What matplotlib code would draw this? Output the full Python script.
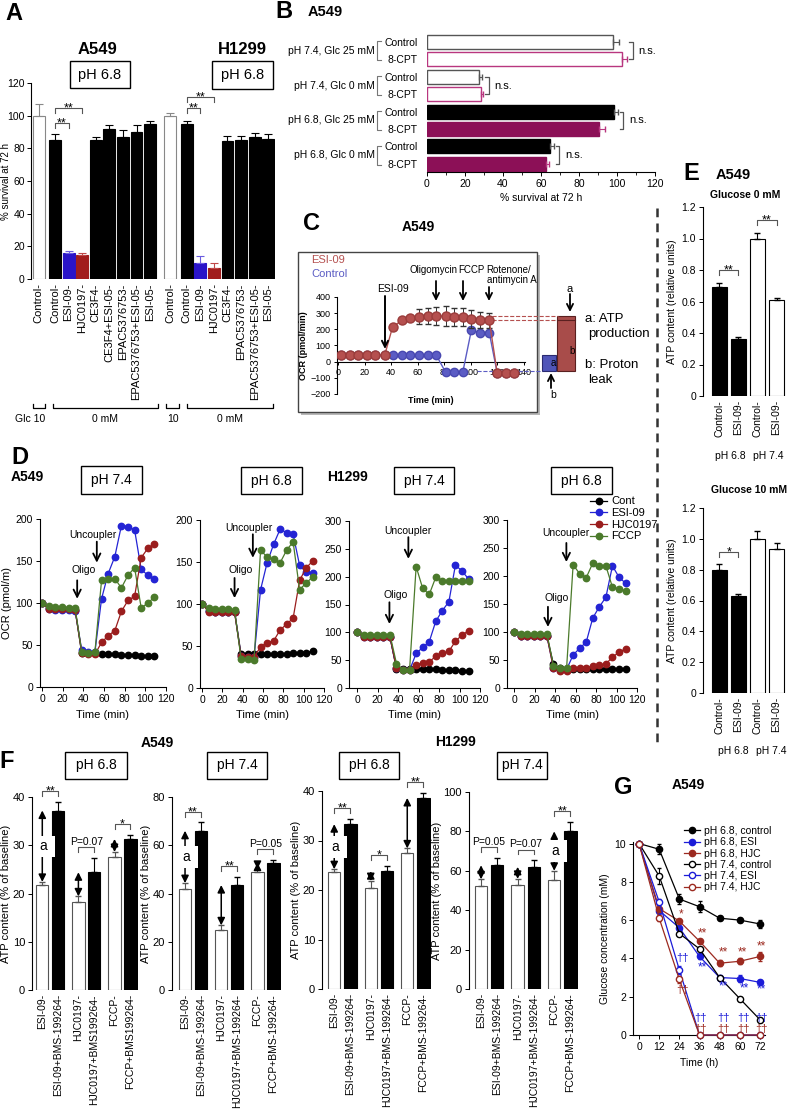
import matplotlib
matplotlib.use('Agg')
import matplotlib.pyplot as plt
from matplotlib.patches import Rectangle
from matplotlib import transforms

plt.rcParams['font.family'] = ['Liberation Sans', 'DejaVu Sans']
plt.rcParams['font.size'] = 8
plt.rcParams['axes.linewidth'] = 0.8
plt.rcParams['xtick.major.size'] = 3
plt.rcParams['ytick.major.size'] = 3
plt.rcParams['xtick.major.width'] = 0.7
plt.rcParams['ytick.major.width'] = 0.7
plt.rcParams['xtick.major.pad'] = 2
plt.rcParams['ytick.major.pad'] = 2

# ---------------- data ----------------
# A: survival at 72 h, pH 6.8
a549_names = ["Control-", "Control-", "ESI-09-", "HJC0197-", "CE3F4-", "CE3F4+ESI-05-",
              "EPAC5376753-", "EPAC5376753+ESI-05-", "ESI-05-"]
a549_surv = [100, 85, 16, 15, 85, 92, 87, 90, 95]
a549_surv_err = [7, 3.5, 1, 0.8, 2, 2.5, 4, 4.5, 1.5]
h1299_names = ["Control-", "Control-", "ESI-09-", "HJC0197-", "CE3F4-",
               "EPAC5376753-", "EPAC5376753+ESI-05-", "ESI-05-"]
h1299_surv = [99.5, 95, 10, 7, 84.5, 85, 87, 86]
h1299_surv_err = [2, 1.5, 4, 2.5, 3, 2.5, 2.5, 3]

# B: 8-CPT
b_groups = ["pH 7.4, Glc 25 mM", "pH 7.4, Glc 0 mM", "pH 6.8, Glc 25 mM", "pH 6.8, Glc 0 mM"]
b_ctrl = [98, 27.4, 98.4, 64.7]
b_ctrl_err = [3, 1.5, 2, 2]
b_cpt = [102.6, 28.4, 90.5, 62.6]
b_cpt_err = [2.6, 1, 3, 1.5]

# C: OCR trace
c_time = [2, 8.5, 15, 21.5, 28, 35, 41, 48, 54.5, 61, 67.5, 74, 81, 87.5, 94,
          100.5, 107, 114, 120, 126.5, 133]
c_esi = [40, 40, 40, 40, 40, 40, 215, 255, 270, 278, 282, 282, 282, 275, 275,
         265, 258, 255, -70, -72, -70]
c_esi_err = [0] * 9 + [45, 50, 55, 60, 55, 55, 55, 50, 45] + [0, 0, 0]
c_ctrl = [40] * 12 + [-65, -65, -65, 195, 180, 180, -70, -70, -70]

# D: OCR (% of baseline)
d_time = [0, 6.4, 12.8, 19.2, 25.6, 32, 38.4, 44.8, 51.2, 57.6, 64, 70.4, 76.8,
          83.2, 89.6, 96, 102.4, 108.8]
d_names = ["Cont", "ESI-09", "HJC0197", "FCCP"]
d1_cont = [100, 94, 93, 93, 93, 92, 40, 40, 40, 39, 39, 39, 38, 38, 38, 37, 37, 37]
d1_esi = [100, 93, 92, 92, 92, 91, 44, 42, 42, 105, 135, 155, 192, 191, 187, 140, 133, 128]
d1_hjc = [100, 93, 93, 93, 93, 92, 41, 39, 39, 53, 61, 67, 90, 103, 108, 154, 165, 170]
d1_fccp = [100, 96, 95, 95, 94, 94, 42, 41, 42, 127, 129, 129, 118, 133, 142, 94, 100, 107]
d2_cont = [100, 92, 91, 91, 91, 91, 40, 41, 40, 40, 40, 40, 40, 40, 42, 42, 42, 44]
d2_esi = [100, 92, 91, 91, 91, 91, 38, 37, 37, 117, 149, 171, 189, 185, 183, 146, 138, 137]
d2_hjc = [100, 91, 90, 90, 90, 90, 38, 37, 37, 49, 54, 56, 69, 76, 83, 128, 143, 151]
d2_fccp = [100, 95, 94, 94, 94, 93, 35, 34, 33, 164, 156, 153, 149, 164, 174, 117, 125, 132]
d3_cont = [100, 93, 92, 92, 92, 92, 34, 35, 35, 35, 35, 34, 34, 33, 33, 32, 31, 31]
d3_esi = [100, 92, 92, 92, 92, 92, 36, 32, 32, 62, 73, 83, 120, 139, 155, 221, 210, 196]
d3_hjc = [100, 92, 92, 92, 92, 92, 36, 33, 33, 42, 45, 47, 57, 62, 66, 84, 95, 103]
d3_fccp = [100, 96, 96, 96, 96, 96, 44, 33, 33, 218, 179, 168, 199, 193, 193, 193, 193, 193]
d4_cont = [100, 93, 93, 93, 93, 93, 42, 36, 34, 34, 34, 34, 34, 34, 34, 34, 34, 34]
d4_esi = [100, 93, 93, 93, 93, 93, 36, 33, 33, 59, 71, 82, 125, 145, 162, 218, 198, 187]
d4_hjc = [100, 93, 93, 93, 93, 93, 35, 30, 30, 36, 36, 36, 39, 41, 43, 55, 64, 70]
d4_fccp = [100, 97, 97, 97, 97, 97, 40, 35, 35, 220, 204, 197, 223, 218, 218, 180, 177, 173]

# E: ATP content (relative units)
e_names = ["Control-", "ESI-09-", "Control-", "ESI-09-"]
e_glc0 = [0.69, 0.365, 1.0, 0.61]
e_glc0_err = [0.03, 0.008, 0.035, 0.01]
e_glc0_sig = [(0, 1, "**"), (2, 3, "**")]
e_glc10 = [0.8, 0.63, 1.0, 0.935]
e_glc10_err = [0.035, 0.012, 0.05, 0.04]
e_glc10_sig = [(0, 1, "*")]

# F: ATP content (% of baseline)
f_names_a = ["ESI-09-", "ESI-09+BMS-199264-", "HJC0197-", "HJC0197+BMS199264-",
             "FCCP-", "FCCP+BMS199264-"]
f_names_b = ["ESI-09-", "ESI-09+BMS-199264-", "HJC0197-", "HJC0197+BMS-199264-",
             "FCCP-", "FCCP+BMS-199264-"]
f_a549_68 = [21.7, 37.2, 18.2, 24.4, 27.6, 31.3]
f_a549_68_err = [0.7, 1.8, 1.2, 3.0, 1.0, 0.9]
f_a549_74 = [42, 66, 25, 43.5, 49, 52.8]
f_a549_74_err = [2.3, 3.5, 1.8, 3.5, 1.2, 1.2]
f_h1299_68 = [23.7, 33.3, 20.5, 23.8, 27.4, 38.6]
f_h1299_68_err = [0.5, 1.0, 1.3, 1.0, 1.0, 1.0]
f_h1299_74 = [52.3, 62.8, 53, 62, 55.3, 80]
f_h1299_74_err = [3.4, 3.9, 2.9, 3.3, 4.7, 4.7]
f_sig_a549_68 = ["**", "P=0.07", "*"]
f_sig_a549_74 = ["**", "**", "P=0.05"]
f_sig_h1299_68 = ["**", "*", "**"]
f_sig_h1299_74 = ["P=0.05", "P=0.07", "**"]

# G: glucose consumption
g_time = [0, 12, 24, 36, 48, 60, 72]
g_labels = ["pH 6.8, control", "pH 6.8, ESI", "pH 6.8, HJC",
            "pH 7.4, control", "pH 7.4, ESI", "pH 7.4, HJC"]
g_68_ctrl = [10, 9.7, 7.1, 6.7, 6.1, 6.0, 5.8]
g_68_ctrl_err = [0, 0.25, 0.25, 0.3, 0.12, 0.12, 0.2]
g_68_esi = [10, 6.5, 5.6, 4.1, 3.0, 2.95, 2.75]
g_68_esi_err = [0, 0.1, 0.15, 0.15, 0.15, 0.2, 0.1]
g_68_hjc = [10, 6.6, 5.95, 4.9, 3.75, 3.85, 4.1]
g_68_hjc_err = [0, 0.1, 0.1, 0.1, 0.15, 0.15, 0.25]
g_74_ctrl = [10, 8.3, 5.3, 4.5, 3.0, 1.9, 0.8]
g_74_ctrl_err = [0, 0.4, 0.15, 0.1, 0.1, 0.1, 0.1]
g_74_esi = [10, 6.95, 3.4, 0, 0, 0, 0]
g_74_esi_err = [0, 0.15, 0.2, 0, 0, 0, 0]
g_74_hjc = [10, 6.1, 2.9, 0, 0, 0, 0]
g_74_hjc_err = [0, 0.15, 0.2, 0, 0, 0, 0]
# significance marks (time, level, text, series)
g_marks = [(25, 6.3, "*", "hjc"), (37.5, 5.3, "**", "hjc"), (50, 4.3, "**", "hjc"),
           (61.5, 4.3, "**", "hjc"), (73, 4.6, "**", "hjc"),
           (37.5, 3.55, "**", "esi"), (50, 2.55, "**", "esi"), (63, 2.45, "**", "esi"),
           (73, 2.4, "**", "esi"),
           (26, 4.0, "\u2020\u2020", "esi"), (26, 2.35, "\u2020\u2020", "hjc"),
           (36.5, 0.9, "\u2020\u2020", "esi"), (50, 0.9, "\u2020\u2020", "esi"),
           (62, 0.9, "\u2020\u2020", "esi"), (73, 0.9, "\u2020\u2020", "esi"),
           (36.5, 0.3, "\u2020\u2020", "hjc"), (50, 0.3, "\u2020\u2020", "hjc"),
           (62, 0.3, "\u2020\u2020", "hjc"), (73, 0.3, "\u2020\u2020", "hjc")]

BLUE = '#2a14c8'
RED = '#a11c1c'
GRAY = '#555555'

# ---------------- figure ----------------
W, H = 787, 1110
fig = plt.figure(figsize=(W / 100, H / 100), dpi=100)


def add_ax(l, t, r, b, **kw):
    return fig.add_axes([l / W, 1 - b / H, (r - l) / W, (b - t) / H], **kw)


under = add_ax(0, 0, W, H, zorder=-5)
ov = add_ax(0, 0, W, H, zorder=20)
for a in (under, ov):
    a.set_xlim(0, W)
    a.set_ylim(H, 0)
    a.axis('off')


def txt(x, y, s, size=8, weight='normal', ha='center', va='center', color='k'):
    ov.text(x, y, s, fontsize=size, fontweight=weight, ha=ha, va=va, color=color)


def box(l, t, r, b, s, size=10):
    ov.add_patch(Rectangle((l, t), r - l, b - t, fill=False, lw=1, ec='k'))
    txt((l + r) / 2, (t + b) / 2, s, size)


def arrow(x, y0, y1, lw=1.3, ms=11):
    ov.annotate('', xy=(x, y1), xytext=(x, y0),
                arrowprops=dict(arrowstyle='->', lw=lw, color='k', shrinkA=0, shrinkB=0,
                                mutation_scale=ms))


def sig_bracket(ax, x1, x2, y, h, label, fs=9, color=GRAY):
    ax.plot([x1, x1, x2, x2], [y - h, y, y, y - h], color=color, lw=0.8, clip_on=False)
    dy = -2.5 if '*' in label else 1.5
    ax.annotate(label, ((x1 + x2) / 2, y), xytext=(0, dy), textcoords='offset points',
                ha='center', va='baseline', fontsize=fs, annotation_clip=False)


def clean(ax, bottom=True):
    ax.spines['top'].set_visible(False)
    ax.spines['right'].set_visible(False)
    if not bottom:
        ax.spines['bottom'].set_visible(False)


# ---------------- A ----------------
axA = add_ax(31, 83, 275, 279)
pos_a = [0] + [1.2 + i for i in range(len(a549_surv) - 1)]
pos_h = [9.7] + [10.9 + i for i in range(len(h1299_surv) - 1)]
fill_a = ['white', 'black', BLUE, RED] + ['black'] * 5
fill_h = ['white', 'black', BLUE, RED] + ['black'] * 4
errc = {'white': '#888888', 'black': 'black', BLUE: '#6a5ce0', RED: '#c04848'}
for pos, vals, errs, fills in ((pos_a, a549_surv, a549_surv_err, fill_a),
                               (pos_h, h1299_surv, h1299_surv_err, fill_h)):
    for p, v, e, c in zip(pos, vals, errs, fills):
        axA.bar(p, v, 0.88, color=c, edgecolor=errc[c] if c == 'white' else c, lw=0.8)
        axA.errorbar(p, v, yerr=[[0], [e]], fmt='none', ecolor=errc[c], capsize=3,
                     elinewidth=0.8, capthick=0.8)
axA.set_xlim(-0.57, 17.4)
axA.set_ylim(0, 120)
axA.set_yticks(range(0, 121, 20))
axA.set_xticks(pos_a + pos_h)
axA.set_xticklabels(a549_names + h1299_names, rotation=90, fontsize=8)
axA.tick_params(axis='x', length=0, pad=3)
axA.tick_params(axis='y', labelsize=7.5, pad=1.5)
clean(axA, bottom=False)
axA.set_ylabel('% survival at 72 h', fontsize=7)
axA.yaxis.set_label_coords(-0.08, 0.5)
sig_bracket(axA, pos_a[1], pos_a[2], 95.5, 3, '**')
sig_bracket(axA, pos_a[1], pos_a[3], 104.6, 3, '**')
sig_bracket(axA, pos_h[1], pos_h[2], 104.6, 3, '**')
sig_bracket(axA, pos_h[1], pos_h[3], 111.5, 3, '**')

txt(14, 14, 'A', 17, 'bold')
txt(97, 49, 'A549', 12, 'bold')
txt(242, 49, 'H1299', 12, 'bold')
box(70, 61, 130, 88, 'pH 6.8', 10.5)
box(212, 61, 273, 89, 'pH 6.8', 10.5)
for l, r in ((33, 45), (53, 158), (166, 179), (187, 273)):
    ov.plot([l, l, r, r], [404, 408, 408, 404], color='k', lw=0.9)
txt(30, 419, 'Glc 10', 7.5)
txt(105, 419, '0 mM', 7.5)
txt(173, 419, '10', 7.5)
txt(230, 419, '0 mM', 7.5)

# ---------------- B ----------------
axB = add_ax(427, 32, 655, 172)
for i in range(len(b_groups)):
    acid = i >= 2
    axB.barh(2 * i, b_ctrl[i], 0.8, color='black' if acid else 'white',
             edgecolor='black' if acid else GRAY, lw=1)
    axB.barh(2 * i + 1, b_cpt[i], 0.8, color='#8c1057' if acid else 'white',
             edgecolor='#8c1057' if acid else '#b8367f', lw=1)
    axB.errorbar(b_ctrl[i], 2 * i, xerr=[[0], [b_ctrl_err[i]]], fmt='none', ecolor=GRAY,
                 capsize=2.5, elinewidth=0.8)
    axB.errorbar(b_cpt[i], 2 * i + 1, xerr=[[0], [b_cpt_err[i]]], fmt='none',
                 ecolor='#b8367f', capsize=2.5, elinewidth=0.8)
    x0 = max(b_ctrl[i] + b_ctrl_err[i], b_cpt[i] + b_cpt_err[i]) + 3
    axB.plot([x0 - 2, x0, x0, x0 - 2], [2 * i, 2 * i, 2 * i + 1, 2 * i + 1], color=GRAY,
             lw=0.9, clip_on=False)
    axB.text(x0 + 3, 2 * i + 0.5, 'n.s.', va='center', fontsize=8)
axB.set_xlim(0, 120)
axB.set_ylim(7.47, -0.575)
axB.set_xticks(range(0, 121, 20))
axB.set_xticks(range(10, 120, 20), minor=True)
axB.tick_params(axis='x', which='minor', length=2)
axB.set_yticks(range(8))
axB.set_yticklabels(['Control', '8-CPT'] * 4, fontsize=7.5)
axB.tick_params(axis='y', length=0, pad=7)
axB.tick_params(axis='x', labelsize=7.5)
clean(axB)
axB.spines['left'].set_visible(False)
axB.set_xlabel('% survival at 72 h', fontsize=7.5, labelpad=3)
trB = transforms.blended_transform_factory(ov.transData, axB.transData)
for i, g in enumerate(b_groups):
    ov.text(375, 2 * i + 0.5, g, transform=trB, ha='right', va='center', fontsize=7.5)
    ov.plot([381, 377, 377, 381], [2 * i - 0.05, 2 * i - 0.05, 2 * i + 1.05, 2 * i + 1.05],
            transform=trB, color='#777777', lw=0.8)
txt(284, 12, 'B', 17, 'bold')
txt(325, 12, 'A549', 10.5, 'bold')

# ---------------- C ----------------
under.add_patch(Rectangle((301, 255), 239, 160, color='#b8b8b8', lw=0))
under.add_patch(Rectangle((298, 252), 239, 160, fc='white', ec='#444444', lw=1))
axC = add_ax(337, 297, 525, 394)
axC.patch.set_alpha(0)
axC.plot(c_time, c_ctrl, '-o', color='#5b5cc4', mec='#4848b0', ms=6, lw=1, zorder=3)
axC.errorbar(c_time, c_esi, yerr=c_esi_err, fmt='-o', color='#b5504f', mec='#9a3c3b',
             ecolor='#333333', elinewidth=0.7, capsize=2.5, ms=6.5, lw=1, zorder=4)
axC.plot([116, 166], [max(c_esi)] * 2, '--', color='#b5504f', lw=0.8, clip_on=False)
axC.plot([116, 166], [c_esi[17]] * 2, '--', color='#b5504f', lw=0.8, clip_on=False)
axC.plot([105, 154], [-60, -60], '--', color='#5b5cc4', lw=0.8, clip_on=False)
axC.bar(159, 100, width=10.6, bottom=-60, color='#5055b8', edgecolor='#2a2a70', lw=0.8,
        clip_on=False)
axC.bar(172, max(c_esi) + 60, width=13.6, bottom=-60, color='#a84c4a', edgecolor='#5a2020',
        lw=0.8, clip_on=False)
axC.plot([165.2, 178.8], [c_esi[17]] * 2, color='#5a2020', lw=0.8, clip_on=False)
axC.set_xlim(-1, 141)
axC.set_ylim(-200, 400)
axC.set_xticks(range(0, 141, 20))
axC.set_yticks(range(-200, 401, 100))
axC.tick_params(labelsize=6.5, length=2.5)
clean(axC)
axC.spines['bottom'].set_position(('data', 0))
axC.set_ylabel('OCR (pmol/min)', fontsize=6.5, fontweight='bold', labelpad=2)
axC.text(0.5, -0.07, 'Time (min)', transform=axC.transAxes, ha='center', va='center',
         fontsize=6.5, fontweight='bold')
txt(312, 224, 'C', 17, 'bold')
txt(418, 227, 'A549', 10, 'bold')
txt(311, 260, 'ESI-09', 8, ha='left', color='#b5504f')
txt(311, 274, 'Control', 8, ha='left', color='#5b5cc4')
txt(393, 289, 'ESI-09', 7.5)
arrow(385, 296, 349, lw=1.4)
txt(433, 270, 'Oligomycin', 7)
arrow(436, 281, 301)
txt(471, 270, 'FCCP', 7)
arrow(463, 281, 301)
txt(486, 270, 'Rotenone/', 7, ha='left')
txt(487, 280, 'antimycin A', 7, ha='left')
arrow(489, 287, 301)
txt(570, 289, 'a', 8)
arrow(570, 294, 312)
txt(572, 351, 'b', 7)
txt(553, 363, 'a', 7)
arrow(551, 388, 373)
txt(553, 395, 'b', 7.5)
txt(585, 319, 'a: ATP', 9.5, ha='left')
txt(588, 334, 'production', 9.5, ha='left')
txt(585, 365, 'b: Proton', 9.5, ha='left')
txt(588, 380, 'leak', 9.5, ha='left')

# ---------------- D ----------------
d_colors = ['black', '#2424d4', '#9a1d1d', '#4b7a2b']
d_sets = [
    ((40, 519, 166, 687), (-2, 120), 200, (d1_cont, d1_esi, d1_hjc, d1_fccp),
     ((34, 127, 105), (40, 139)), ((53, 173, 148), (49, 181))),
    ((200, 520, 324, 688), (-2, 120), 200, (d2_cont, d2_esi, d2_hjc, d2_fccp),
     ((32, 131, 107), (38, 140)), ((50, 183, 155), (46, 190))),
    ((349, 521, 480, 688), (-8, 120), 300, (d3_cont, d3_esi, d3_hjc, d3_fccp),
     ((31.5, 154, 115), (38, 167)), ((50, 271, 232), (50, 282))),
    ((507, 520, 637, 688), (-7, 120), 300, (d4_cont, d4_esi, d4_hjc, d4_fccp),
     ((33, 145, 109), (41, 161)), ((51, 259, 225), (51, 277))),
]
d_axes = []
for rect, xl, ymax, series, oligo, unc in d_sets:
    ax = add_ax(*rect)
    for vals, c, name in zip(series, d_colors, d_names):
        ax.plot(d_time, vals, '-o', color=c, mec=c, ms=4.6, lw=0.9, label=name)
    ax.set_xlim(*xl)
    ax.set_ylim(0, ymax)
    ax.set_xticks(range(0, 121, 20))
    ax.set_yticks(range(0, ymax + 1, 50))
    ax.tick_params(labelsize=7.5)
    clean(ax)
    ax.set_xlabel('Time (min)', fontsize=8, labelpad=4)
    for (xa, y0, y1), (xt, yt), s in ((oligo[0], oligo[1], 'Oligo'), (unc[0], unc[1], 'Uncoupler')):
        ax.annotate('', xy=(xa, y1), xytext=(xa, y0), annotation_clip=False,
                    arrowprops=dict(arrowstyle='->', lw=1.3, color='k', shrinkA=0,
                                    shrinkB=0, mutation_scale=13))
        ax.text(xt, yt, s, ha='center', va='center', fontsize=7.5)
    d_axes.append(ax)
d_axes[0].set_ylabel('OCR (pmol/m)', fontsize=8, labelpad=3)
d_axes[3].legend(loc='upper left', bbox_to_anchor=(0.64, 1.14), frameon=False, fontsize=8,
                 handlelength=1.5, labelspacing=0.15, handletextpad=0.4, borderpad=0,
                 borderaxespad=0)
txt(20, 457, 'D', 17, 'bold')
txt(27, 477, 'A549', 10, 'bold')
box(81, 466, 142, 494, 'pH 7.4', 10)
box(241, 467, 302, 494, 'pH 6.8', 10)
txt(348, 477, 'H1299', 10, 'bold')
box(394, 467, 454, 494, 'pH 7.4', 10)
box(551, 467, 612, 494, 'pH 6.8', 10)

# ---------------- E ----------------
for rect, vals, errs, sigs in (((703, 207, 787, 396), e_glc0, e_glc0_err, e_glc0_sig),
                               ((703, 508, 787, 693), e_glc10, e_glc10_err, e_glc10_sig)):
    ax = add_ax(*rect)
    for i, (v, e) in enumerate(zip(vals, errs)):
        c = 'black' if i < 2 else 'white'
        ax.bar(i, v, 0.78, color=c, edgecolor='black', lw=0.8)
        ax.errorbar(i, v, yerr=[[0], [e]], fmt='none', ecolor='black', capsize=2.5,
                    elinewidth=0.8)
    for i1, i2, s in sigs:
        y = max(vals[i1] + errs[i1], vals[i2] + errs[i2]) + 0.08
        sig_bracket(ax, i1, i2, y, 0.03, s)
    ax.set_xlim(-0.85, 3.55)
    ax.set_ylim(0, 1.2)
    ax.set_yticks([0, 0.2, 0.4, 0.6, 0.8, 1.0, 1.2])
    ax.set_yticklabels(['0', '0.2', '0.4', '0.6', '0.8', '1.0', '1.2'])
    ax.set_xticks(range(4))
    ax.set_xticklabels(e_names, rotation=90, fontsize=7.5)
    ax.tick_params(axis='x', length=0, pad=3)
    ax.tick_params(axis='y', labelsize=7.5)
    clean(ax, bottom=False)
    ax.set_ylabel('ATP content (relative units)', fontsize=7.5, labelpad=3)
txt(691, 174, 'E', 17, 'bold')
txt(733, 175, 'A549', 10.5, 'bold')
txt(745, 195, 'Glucose 0 mM', 7.5, 'bold')
txt(749, 490, 'Glucose 10 mM', 7.5, 'bold')
txt(730, 456, 'pH 6.8', 7.5)
txt(768, 456, 'pH 7.4', 7.5)
txt(733, 751, 'pH 6.8', 7.5)
txt(771, 751, 'pH 7.4', 7.5)
ov.plot([657, 657], [208, 743], color='#333333', lw=1.8, dashes=(3.5, 2.5))

# ---------------- F ----------------
f_x = [0, 0.88, 2, 2.88, 4, 4.88]
f_sets = [
    ((32, 797, 138, 990), -0.57, 40, 10, f_a549_68, f_a549_68_err, f_names_a, f_sig_a549_68, 0),
    ((172, 797, 281, 990), -0.72, 80, 20, f_a549_74, f_a549_74_err, f_names_b, f_sig_a549_74, 0),
    ((322, 791, 431, 989), -0.67, 40, 10, f_h1299_68, f_h1299_68_err, f_names_b, f_sig_h1299_68, 0),
    ((469, 792, 578, 989), -0.66, 100, 20, f_h1299_74, f_h1299_74_err, f_names_b, f_sig_h1299_74, 2),
]
for rect, x0, ymax, ystep, vals, errs, names, sigs, a_pair in f_sets:
    ax = add_ax(*rect)
    for i, (x, v, e) in enumerate(zip(f_x, vals, errs)):
        white = i % 2 == 0
        ax.bar(x, v, 0.68, color='white' if white else 'black',
               edgecolor=GRAY if white else 'black', lw=0.8)
        ax.errorbar(x, v, yerr=[[0], [e]], fmt='none', ecolor=GRAY if white else 'black',
                    capsize=2.5, elinewidth=0.8)
    for g in range(3):
        wi, bi = 2 * g, 2 * g + 1
        top = max(vals[wi] + errs[wi], vals[bi] + errs[bi])
        s = sigs[g]
        sig_bracket(ax, f_x[wi], f_x[bi], top + 0.055 * ymax, 0.025 * ymax, s,
                    fs=9 if '*' in s else 7.5)
        y0 = vals[wi] + errs[wi]
        y1 = vals[bi]
        ax.annotate('', xy=(f_x[wi], y1), xytext=(f_x[wi], y0), annotation_clip=False,
                    arrowprops=dict(arrowstyle='<|-|>', color='k', lw=1.1, shrinkA=0,
                                    shrinkB=0, mutation_scale=11), zorder=5)
        if g == a_pair:
            mid = (y0 + y1) / 2
            ax.add_patch(Rectangle((f_x[wi] - 0.45, mid - 0.055 * ymax), 1.17, 0.11 * ymax,
                                   fc='white', ec='none', zorder=6, clip_on=False))
            ax.text(f_x[wi] + 0.05, mid, 'a', ha='center', va='center', fontsize=10, zorder=7)
    ax.set_xlim(x0, 5.3)
    ax.set_ylim(0, ymax)
    ax.set_yticks(range(0, ymax + 1, ystep))
    ax.set_xticks(f_x)
    ax.set_xticklabels(names, rotation=90, fontsize=7.5)
    ax.tick_params(axis='x', length=0, pad=3)
    ax.tick_params(axis='y', labelsize=8)
    clean(ax, bottom=False)
    ax.set_ylabel('ATP content (% of baseline)', fontsize=8, labelpad=1)
txt(7, 762, 'F', 17, 'bold')
txt(157, 743, 'A549', 10, 'bold')
box(65, 752, 127, 779, 'pH 6.8', 10)
box(207, 752, 267, 779, 'pH 7.4', 10)
txt(456, 742, 'H1299', 10, 'bold')
box(339, 752, 399, 779, 'pH 6.8', 10)
box(497, 752, 547, 779, 'pH 7.4', 10)

# ---------------- G ----------------
axG = add_ax(633, 841.6, 765, 1035)
g_colors = {'ctrl': 'black', 'esi': '#1c1cd8', 'hjc': '#9c2a20'}
g_series = [(g_68_ctrl, g_68_ctrl_err, 'ctrl', True), (g_68_esi, g_68_esi_err, 'esi', True),
            (g_68_hjc, g_68_hjc_err, 'hjc', True), (g_74_ctrl, g_74_ctrl_err, 'ctrl', False),
            (g_74_esi, g_74_esi_err, 'esi', False), (g_74_hjc, g_74_hjc_err, 'hjc', False)]
for (vals, errs, key, filled), lab in zip(g_series, g_labels):
    c = g_colors[key]
    axG.errorbar(g_time, vals, yerr=errs, fmt='none', ecolor=c, capsize=1.5, elinewidth=0.8)
    axG.plot(g_time, vals, '-o', color=c, mec=c, mfc=c if filled else 'white', ms=4.5,
             lw=0.9, label=lab, clip_on=False, zorder=3)
for t, y, s, key in g_marks:
    axG.text(t, y, s, color=g_colors[key], ha='center', va='center',
             fontsize=8.5 if '*' in s else 8)
axG.set_xlim(-3.6, 75)
axG.set_ylim(0, 10.1)
axG.set_xticks(g_time)
axG.set_yticks(range(0, 11, 2))
axG.tick_params(labelsize=7.5)
clean(axG)
axG.set_xlabel('Time (h)', fontsize=7.5, labelpad=4)
axG.set_ylabel('Glucose concentration (mM)', fontsize=7.5, labelpad=3)
axG.legend(loc='upper left', bbox_to_anchor=(0.39, 1.08), frameon=False, fontsize=7.5,
           handlelength=1.5, labelspacing=0.12, handletextpad=0.4, borderpad=0,
           borderaxespad=0)
txt(623, 787, 'G', 17, 'bold')
txt(688, 785, 'A549', 10, 'bold')

fig.savefig('out.png', dpi=100)
